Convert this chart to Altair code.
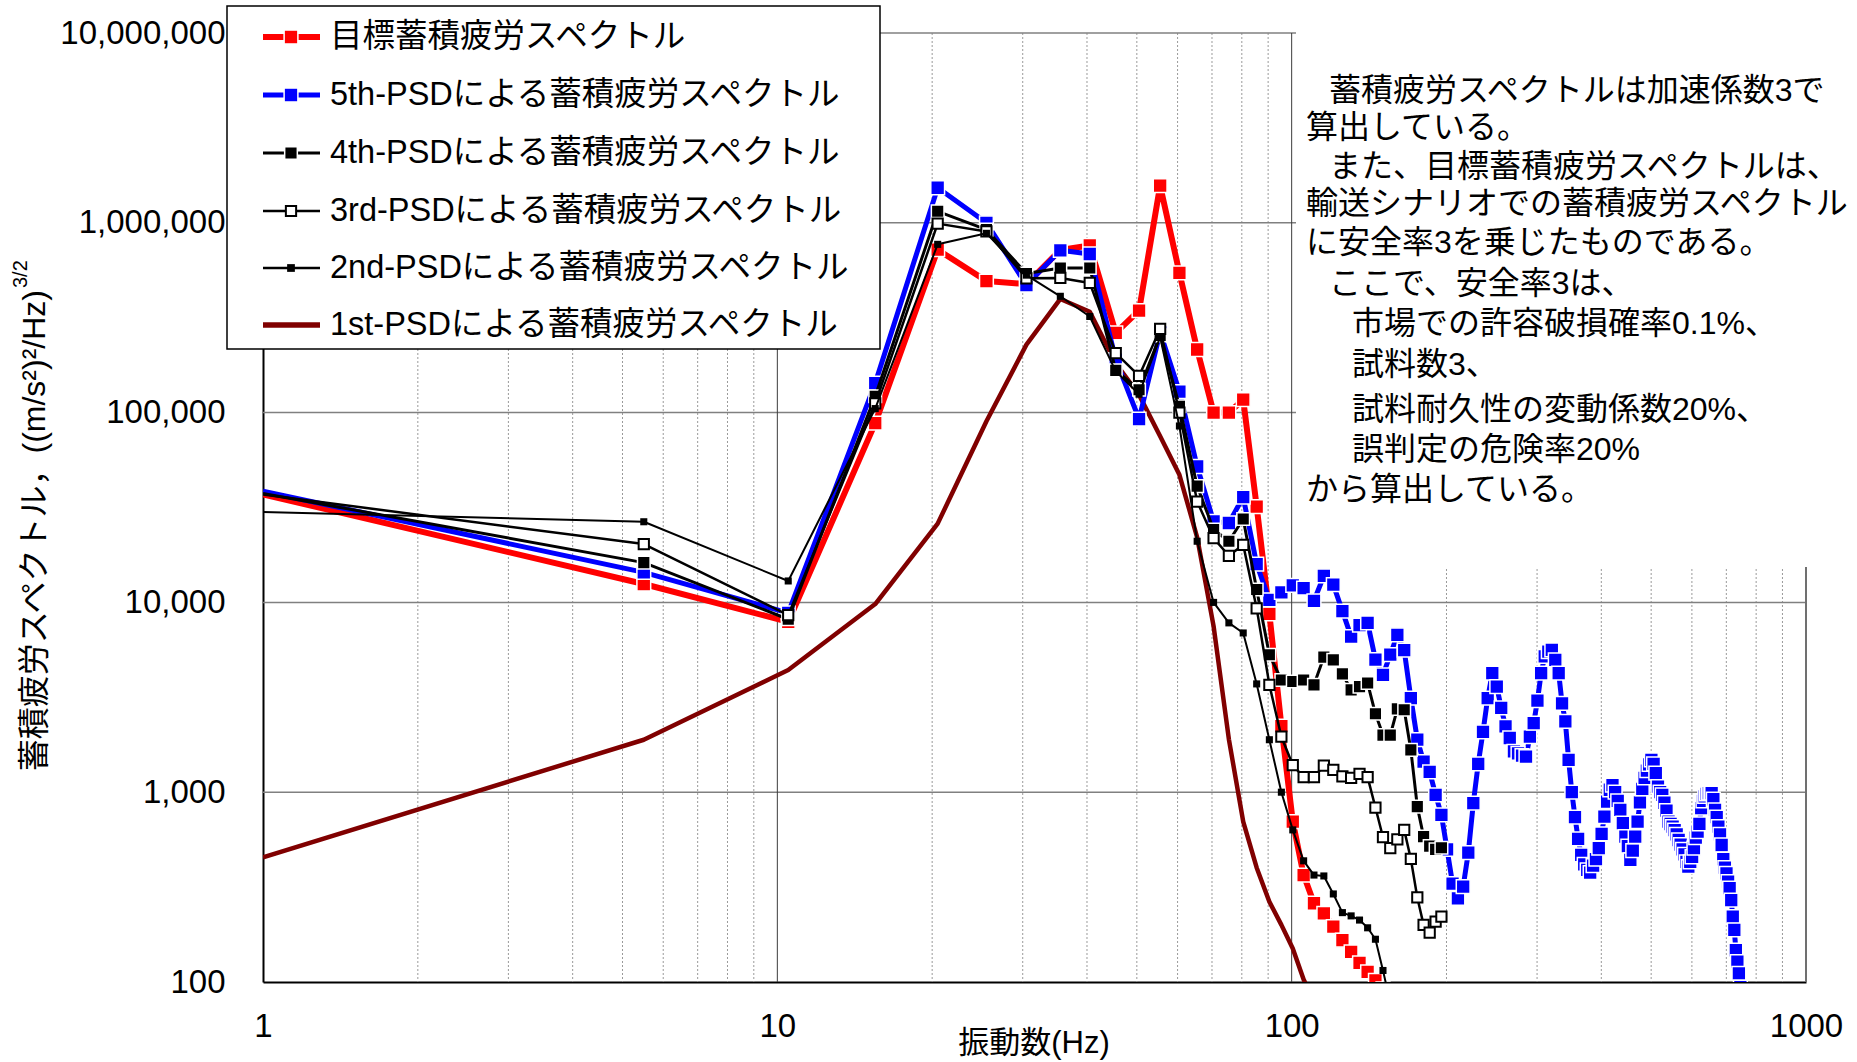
import altair as alt
import pandas as pd

# Sampling grid of the fatigue spectra: first point at the 1 Hz axis, then every 5 Hz
FREQ = [1.0] + [k + 0.5 for k in range(5, 750, 5)]

# 目標蓄積疲労スペクトル (1 Hz ... 150.5 Hz)
TARGET = [37100, 12500, 7900, 88000, 722000, 493000, 475000, 720000, 760000, 263000,
          345000, 1570000, 545000, 215000, 100000, 100000, 117000, 32000, 8700, 2230,
          700, 366, 260, 230, 196, 166, 144, 126, 113, 102,
          92]

# 5th-PSD (1 Hz ... 745.5 Hz)
PSD5 = [38500, 14400, 8800, 143000, 1530000, 1000000, 470000, 716000, 685000, 190000,
        92500, 265000, 129000, 52000, 26700, 26200, 35900, 15900, 10300, 11300,
        12300, 11900, 10200, 13800, 12400, 9000, 6600, 7600, 7800, 5000,
        4150, 5300, 6750, 5600, 3130, 1890, 1450, 1280, 968, 760,
        500, 330, 276, 318, 480, 875, 1410, 2080, 3130, 4240,
        3600, 2780, 2220, 1930, 1640, 1600, 1560, 1540, 1960, 2310,
        3040, 4240, 5200, 5500, 5620, 4980, 4240, 2940, 2360, 1480,
        1000, 740, 568, 468, 417, 390, 377, 410, 444, 507,
        603, 743, 891, 1030, 1090, 1000, 900, 807, 687, 583,
        520, 440, 492, 583, 700, 883, 1040, 1190, 1300, 1400,
        1480, 1410, 1260, 1070, 1000, 968, 880, 800, 700, 680,
        659, 632, 600, 560, 530, 500, 470, 430, 405, 430,
        457, 507, 577, 620, 681, 824, 900, 950, 980, 990,
        990, 988, 918, 807, 740, 659, 600, 527, 444, 400,
        374, 338, 312, 270, 221, 188, 147, 128, 111, 94]

# 4th-PSD (1 Hz ... 195.5 Hz)
PSD4 = [37500, 16200, 8150, 122000, 1150000, 920000, 540000, 578000, 578000, 167000,
        132000, 255000, 108000, 41000, 24200, 21000, 27500, 11700, 5300, 3900,
        3830, 3900, 3680, 5150, 4980, 4200, 3460, 3600, 3760, 2590,
        2000, 2000, 2750, 2720, 1670, 840, 583, 520, 500, 510]

# 3rd-PSD (1 Hz ... 195.5 Hz)
PSD3 = [37000, 20300, 8570, 112000, 990000, 900000, 510000, 512000, 482000, 206000,
        156000, 276000, 100000, 34000, 21800, 17600, 20100, 9300, 3680, 1960,
        1390, 1200, 1200, 1380, 1310, 1210, 1190, 1250, 1200, 830,
        579, 507, 565, 633, 445, 279, 200, 182, 208, 221]

# 2nd-PSD (1 Hz ... 155.5 Hz)
PSD2 = [29900, 26600, 12970, 105000, 770000, 880000, 530000, 410000, 321000, 165000,
        125000, 250000, 85000, 21000, 10000, 7800, 6900, 3720, 1890, 1000,
        633, 435, 366, 362, 291, 232, 223, 212, 193, 168,
        115, 78]

# 1st-PSD (1 Hz ... 110.5 Hz)
PSD1 = [454, 1890, 4400, 9800, 26000, 90000, 228000, 397000, 340000, 182000,
        124000, 75000, 47000, 22000, 7500, 1900, 700, 400, 265, 200,
        150, 103, 80]

X_MINOR = [2, 3, 4, 5, 6, 7, 8, 9, 20, 30, 40, 50, 60, 70, 80, 90,
           200, 300, 400, 500, 600, 700, 800, 900]
X_MAJOR = [10, 100]
X_EDGE = [1000]
Y_MAJOR = [1000, 10000, 100000, 1000000, 10000000]
X_TICKS = [1, 10, 100, 1000]
Y_TICKS = [100, 1000, 10000, 100000, 1000000, 10000000]

LEGEND_LABELS = [
    "目標蓄積疲労スペクトル",
    "5th-PSDによる蓄積疲労スペクトル",
    "4th-PSDによる蓄積疲労スペクトル",
    "3rd-PSDによる蓄積疲労スペクトル",
    "2nd-PSDによる蓄積疲労スペクトル",
    "1st-PSDによる蓄積疲労スペクトル",
]

NOTE_LINES = [
    "蓄積疲労スペクトルは加速係数3で",
    "算出している。",
    "また、目標蓄積疲労スペクトルは、",
    "輸送シナリオでの蓄積疲労スペクトル",
    "に安全率3を乗じたものである。",
    "ここで、安全率3は、",
    "市場での許容破損確率0.1%、",
    "試料数3、",
    "試料耐久性の変動係数20%、",
    "誤判定の危険率20%",
    "から算出している。",
]
NOTE_INDENT = [1, 0, 1, 0, 0, 1, 2, 2, 2, 2, 0]
NOTE_Y = [58, 95, 134, 171, 210, 251, 291, 332, 377, 417, 457]

X_TITLE = "振動数(Hz)"
Y_TITLE = "蓄積疲労スペクトル，((m/s²)²/Hz)"
Y_TITLE_SUP = "3/2"

FONT = "'Liberation Sans', 'Noto Sans CJK JP', sans-serif"
W, H = 1543, 949

xs = alt.Scale(type="log", domain=[1, 1000], nice=False)
ys = alt.Scale(type="log", domain=[100, 10000000], nice=False)

x_axis = alt.Axis(values=X_TICKS, format="d", labelFontSize=33, labelFont=FONT,
                  labelColor="black", labelPadding=28, labelFlush=False,
                  ticks=False, grid=False, domainColor="black", domainWidth=2,
                  title=None)
y_axis = alt.Axis(values=Y_TICKS, format=",d", labelFontSize=33, labelFont=FONT,
                  labelColor="black", labelPadding=38, labelFlush=False,
                  ticks=False, grid=False, domainColor="black", domainWidth=2,
                  title=None)


def xenc():
    return alt.X("f:Q", scale=xs, axis=x_axis)


def yenc():
    return alt.Y("v:Q", scale=ys, axis=y_axis)


one = pd.DataFrame({"k": [0]})
layers = []

# grid
layers.append(alt.Chart(pd.DataFrame({"f": X_MINOR})).mark_rule(
    color="#9a9a9a", strokeWidth=1, strokeDash=[2, 2]).encode(x=xenc()))
layers.append(alt.Chart(pd.DataFrame({"v": Y_MAJOR})).mark_rule(
    color="#808080", strokeWidth=1.5).encode(y=yenc()))
layers.append(alt.Chart(pd.DataFrame({"f": X_MAJOR})).mark_rule(
    color="#3c3c3c", strokeWidth=1).encode(x=xenc()))
layers.append(alt.Chart(pd.DataFrame({"f": X_EDGE})).mark_rule(
    color="#707070", strokeWidth=2).encode(x=xenc()))


def series(vals, color, width, marker=None):
    df = pd.DataFrame({"f": FREQ[:len(vals)], "v": vals})
    out = [alt.Chart(df).mark_line(color=color, strokeWidth=width, strokeJoin="round",
                                   clip=True).encode(x=xenc(), y=yenc())]
    if marker is not None:
        # the first sample sits on the frame edge and carries no marker
        out.append(alt.Chart(df.iloc[1:]).mark_point(shape="square", filled=True,
                                                     opacity=1, clip=True,
                                                     **marker).encode(x=xenc(), y=yenc()))
    return out


RED_M = dict(fill="#FF0000", stroke="white", strokeWidth=1.5, size=190)
BLUE_M = dict(fill="#0000FF", stroke="white", strokeWidth=1.5, size=190)
BLK_M = dict(fill="black", stroke="white", strokeWidth=1.5, size=160)
HOLLOW_M = dict(fill="white", stroke="black", strokeWidth=2, size=105)
SMALL_M = dict(fill="black", strokeWidth=0, size=50)

layers += series(PSD1, "#800000", 4.5)
layers += series(TARGET, "#FF0000", 6, RED_M)
layers += series(PSD5, "#0000FF", 5, BLUE_M)
layers += series(PSD4, "black", 3, BLK_M)
layers += series(PSD3, "black", 2.5, HOLLOW_M)
layers += series(PSD2, "black", 2, SMALL_M)


def box(x0, x1, y0, y1, **kw):
    return alt.Chart(one).mark_rect(fill="white", **kw).encode(
        x=alt.value(x0), x2=alt.value(x1), y=alt.value(y0), y2=alt.value(y1))


def text(s, x, y, size, align="left", angle=0):
    return alt.Chart(one).mark_text(align=align, baseline="middle", fontSize=size,
                                    font=FONT, color="black", angle=angle).encode(
        x=alt.value(x), y=alt.value(y), text=alt.value(s))


# note box on the upper right
layers.append(box(1033, 1600, -33, 534))
for line, ind, ny in zip(NOTE_LINES, NOTE_INDENT, NOTE_Y):
    layers.append(text(line, 1043 + 23 * ind, ny, 32))

# legend
layers.append(box(-36, 617, -27, 316, stroke="black", strokeWidth=1.5))
LEG_STYLE = [
    ("#FF0000", 6, RED_M),
    ("#0000FF", 5, BLUE_M),
    ("black", 3, BLK_M),
    ("black", 2.5, HOLLOW_M),
    ("black", 2.5, dict(fill="black", strokeWidth=0, size=60)),
    ("#800000", 5.5, None),
]
LEG_Y = [4, 62, 120, 178, 235, 292]
for label, (color, width, marker), ly in zip(LEGEND_LABELS, LEG_STYLE, LEG_Y):
    layers.append(alt.Chart(one).mark_rule(color=color, strokeWidth=width).encode(
        x=alt.value(0), x2=alt.value(57), y=alt.value(ly)))
    if marker is not None:
        layers.append(alt.Chart(one).mark_point(shape="square", filled=True, opacity=1,
                                                **marker).encode(
            x=alt.value(28), y=alt.value(ly)))
    layers.append(text(label, 67, ly, 32.5))

# axis titles
layers.append(text(X_TITLE, 771, 1011, 31, align="center"))
layers.append(text(Y_TITLE, -228, 257, 32, align="right", angle=270))
layers.append(text(Y_TITLE_SUP, -242, 255, 20, align="left", angle=270))

chart = alt.layer(*layers).properties(
    width=W, height=H,
    autosize=alt.AutoSizeParams(type="none"),
    padding={"left": 263, "top": 33, "right": 51, "bottom": 80},
    background="white",
).configure_view(stroke=None)

chart.save("out.html", embed_options={"renderer": "svg", "actions": False})
